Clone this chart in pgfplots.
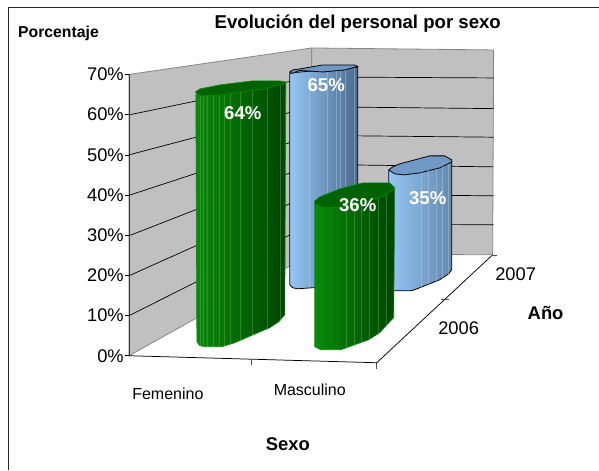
\documentclass[border=0pt]{standalone}
\usepackage{pgfplots}
\pgfplotsset{compat=1.18}
\usepackage{pgfplotstable}
\usepackage{fontspec}
\setmainfont{Liberation Sans}
\definecolor{wall}{HTML}{C0C0C0}
\definecolor{wallb}{HTML}{868686}
\definecolor{gl}{HTML}{0A8A0A}
\definecolor{gm}{HTML}{006C00}
\definecolor{gr}{HTML}{004400}
\definecolor{gt}{HTML}{006200}
\definecolor{gb}{HTML}{0A8A0A}
\definecolor{gf}{HTML}{5FA85F}
\definecolor{bl}{HTML}{95C6F6}
\definecolor{bm}{HTML}{7AA6D2}
\definecolor{br}{HTML}{4A6A8C}
\definecolor{br2}{HTML}{6488AE}
\definecolor{bt}{HTML}{7099C6}
\definecolor{bf}{HTML}{B4CCE4}
\pgfplotstableread{
x y v
243 113 64
326.5 85 65
358 205 36
428 198 35
}\datalabels
\begin{document}
\begin{tikzpicture}
\begin{axis}[name=main,hide axis,scale only axis,width=599pt,height=470pt,
  xmin=0,xmax=599,ymin=0,ymax=470,y dir=reverse,clip=false,no markers,
  unbounded coords=jump,at={(0pt,0pt)},anchor=south west]
% full page extent
\addplot[draw=none] coordinates {(0,0)(599,470)};
% frame
\addplot[draw=black!85,line width=0.9pt] coordinates {(8,470)(8,7)(599,7)};
% walls
\addplot[fill=wall,draw=wallb,line width=0.8pt] coordinates {(129,356)(129,74.5)(312,48)(312,254)} --cycle;
\addplot[fill=wall,draw=wallb,line width=0.8pt] coordinates {(312,254)(312,48)(494,50)(493,255)} --cycle;
% gridlines
\addplot[black,line width=0.7pt] table[row sep=\\] {
x y\\
129 115\\ 312 77\\ 494 78\\ nan nan\\
129 155\\ 312 106.8\\ 494 108.7\\ nan nan\\
129 195.5\\ 312 135.5\\ 494 137.3\\ nan nan\\
129 236\\ 312 164.5\\ 494 167\\ nan nan\\
129 276\\ 312 194\\ 494 196\\ nan nan\\
129 316\\ 312 224\\ 494 225\\
};
% floor edges and ticks
\addplot[black,line width=0.75pt] coordinates {(129,356)(377,363)(493,255)};
\addplot[black!70,line width=0.6pt] table[row sep=\\] {
x y\\
251 360\\ 251 365\\ nan nan\\
377 363\\ 377 369\\ nan nan\\
441 300\\ 449 300\\ nan nan\\
493 255\\ 497 255\\
};
% --- blue 2007 Femenino
\addplot[draw=black,line width=0.8pt,left color=bl,middle color=bm,right color=br] coordinates {
(290,73)(290,285)(293,288)(298,289)(312,288)(330,287)(358,270)(358,67)} --cycle;
\addplot[draw=black,line width=0.8pt,fill=bt] coordinates {
(290,72)(293,70)(300,69)(323,65)(355,65)(358,66.5)(345,70)(323,72)(300,70.5)(292,73.5)} --cycle;
\addplot[bf,line width=0.3pt,opacity=.45] table[row sep=\\] {
x y\\
309 73\\ 309 288\\ nan nan\\
327 72\\ 327 285\\ nan nan\\
336 71\\ 336 280\\ nan nan\\
340 71\\ 340 278\\ nan nan\\
345 70\\ 345 275\\ nan nan\\
354 68\\ 354 272\\
};
% --- blue 2007 Masculino
\addplot[draw=black,line width=0.8pt,left color=bl,right color=br2] coordinates {
(389,171)(389,291)(394,291)(412,291)(420,288)(440,280)(449,274)(452,270)(452,161)} --cycle;
\addplot[draw=black,line width=0.8pt,fill=bt] coordinates {
(389,170)(393,167)(400,164)(430,156)(445,156)(452,160)(452,162)(440,168)(420,173)(405,175)(395,174)} --cycle;
\addplot[bf,line width=0.3pt,opacity=.45] table[row sep=\\] {
x y\\
421 172\\ 421 288\\ nan nan\\
428 170\\ 428 285\\ nan nan\\
436 169\\ 436 282\\ nan nan\\
442 166\\ 442 279\\ nan nan\\
448 164\\ 448 274\\
};
% --- green 2006 Femenino
\addplot[draw=gb,line width=0.6pt,left color=gl,middle color=gm,right color=gr] coordinates {
(196,94)(197,342)(200,346)(205,347)(222,347)(235,343)(258,333)(270,328)(279,322)(285,315)(286,83)} --cycle;
\addplot[gf,line width=0.3pt,opacity=.45] table[row sep=\\] {
x y\\
200 96\\ 200 346\\ nan nan\\
203 96\\ 203 347\\ nan nan\\
207 96\\ 207 347\\ nan nan\\
213 96\\ 213 347\\ nan nan\\
219 96\\ 219 347\\ nan nan\\
224 95\\ 224 346\\ nan nan\\
230 94\\ 230 344\\ nan nan\\
240 92\\ 240 341\\ nan nan\\
252 91\\ 252 336\\ nan nan\\
267 89\\ 267 330\\ nan nan\\
280 85\\ 280 321\\
};
\addplot[draw=gb,line width=0.6pt,fill=gt] coordinates {
(195.5,92)(200,89)(220,85)(252,81)(280,81)(286,82)(286,83)(265,89)(240,92)(220,95)(200,96)} --cycle;
% --- green 2006 Masculino
\addplot[draw=gb,line width=0.6pt,left color=gl,middle color=gm,right color=gr] coordinates {
(315,203)(315,347)(321,350)(341,350)(369,340)(380,333)(390,322)(394,318)(395,188)} --cycle;
\addplot[gf,line width=0.3pt,opacity=.45] table[row sep=\\] {
x y\\
346 207\\ 346 349\\ nan nan\\
354 206\\ 354 346\\ nan nan\\
361 203\\ 361 343\\ nan nan\\
369 201\\ 369 340\\ nan nan\\
378 198\\ 378 335\\ nan nan\\
386 194\\ 386 326\\
};
\addplot[draw=gb,line width=0.6pt,fill=gt] coordinates {
(315,201)(320,197)(340,189)(363,183)(390,183)(395,188)(385,196)(365,202)(350,207)(325,208)(315,204)} --cycle;
% data labels, from the values
\addplot[only marks,mark=none,draw=none,
  point meta=\thisrow{v},
  nodes near coords={\pgfmathprintnumber[precision=0]{\pgfplotspointmeta}\%},
  every node near coord/.style={anchor=center,inner sep=0pt,text=white,font=\fontsize{18.6}{20}\selectfont\bfseries,/pgf/number format/assume math mode=true}]
  table[x=x,y=y] {\datalabels};
% text
\addplot[only marks,mark=none,draw=none,point meta=explicit symbolic,
  nodes near coords,
  every node near coord/.style={anchor=center,inner sep=0pt,text=black,font=\fontsize{16}{18}\selectfont}]
  table[x=x,y=y,meta=t,row sep=\\] {
x y t\\
168 394 Femenino\\
310 390 Masculino\\
};
\addplot[only marks,mark=none,draw=none,point meta=explicit symbolic,
  nodes near coords,
  every node near coord/.style={anchor=center,inner sep=0pt,text=black,font=\fontsize{18.3}{20}\selectfont}]
  table[x=x,y=y,meta=t,row sep=\\] {
x y t\\
516 274 2007\\
459 328.5 2006\\
};
\addplot[only marks,mark=none,draw=none,point meta=explicit symbolic,
  nodes near coords,
  every node near coord/.style={anchor=center,inner sep=0pt,text=black,font=\fontsize{18.4}{20}\selectfont\bfseries}]
  table[x=x,y=y,meta=t,row sep=\\] {
x y t\\
288 445 Sexo\\
546 313 Año\\
};
\addplot[only marks,mark=none,draw=none,point meta=explicit symbolic,
  nodes near coords,
  every node near coord/.style={anchor=center,inner sep=0pt,text=black,font=\fontsize{18.6}{20}\selectfont\bfseries}]
  coordinates {(358,24)[{Evolución del personal por sexo}]};
\addplot[only marks,mark=none,draw=none,point meta=explicit symbolic,
  nodes near coords,
  every node near coord/.style={anchor=center,inner sep=0pt,text=black,font=\fontsize{15.8}{18}\selectfont\bfseries}]
  coordinates {(58.5,33)[Porcentaje]};
\end{axis}
% percentage axis on the left wall
\begin{axis}[scale only axis,width=1pt,height=281.5pt,at={(129pt,114pt)},anchor=south west,
  ymin=0,ymax=70,ytick={0,10,...,70},xtick=\empty,
  axis x line=none,axis y line=left,axis line style={-,black!80,line width=0.8pt},
  /pgf/number format/assume math mode=true,
  yticklabel={\pgfmathprintnumber{\tick}\%},
  yticklabel style={font=\fontsize{18.3}{20}\selectfont,inner sep=0pt,xshift=-1pt},
  major tick length=4pt,tick style={black,line width=0.6pt},
  tick align=outside,
  xmin=0,xmax=1]
\addplot[draw=none,forget plot] coordinates {(0,0)(0,70)};
\end{axis}
\end{tikzpicture}
\end{document}
